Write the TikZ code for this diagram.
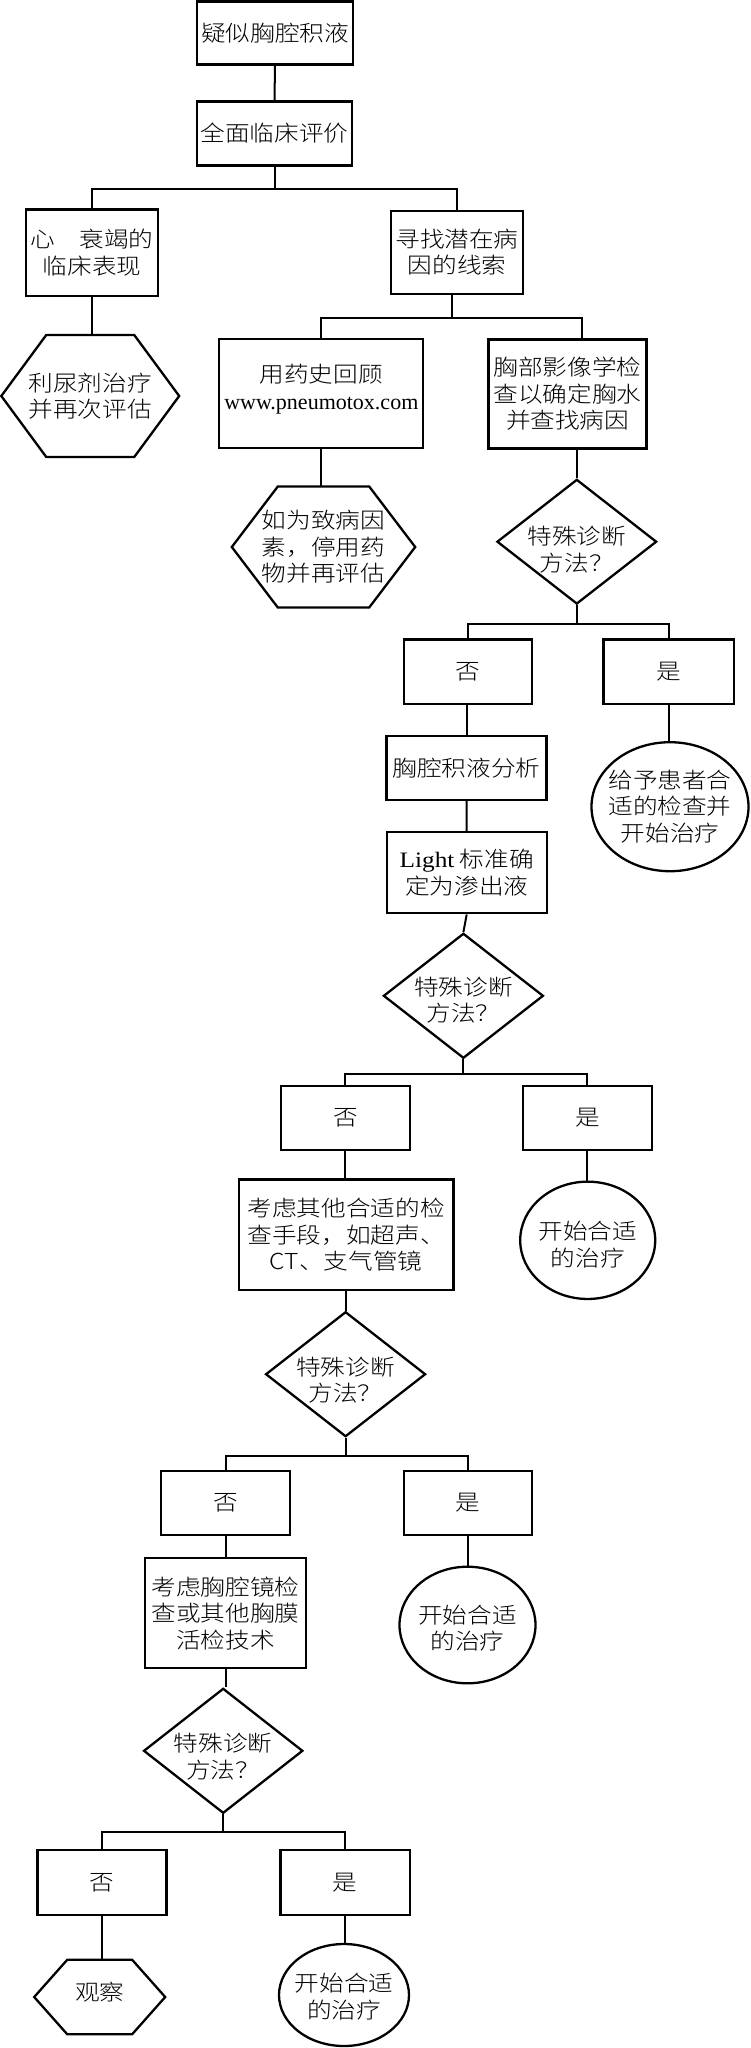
\documentclass[tikz,border=0pt]{standalone}
\usepackage{fontspec}
\setmainfont{Noto Sans CJK SC Light}[FakeStretch=1.12]
\newfontfamily\lat{Liberation Serif}
\newfontfamily\latw{Liberation Serif}[FakeStretch=1.15]
\usetikzlibrary{shapes.geometric}
\newcommand\fs{\fontsize{22pt}{26.5pt}\selectfont}
\newcommand\hexof[2]{\draw[shp] (#1.west) -- ([xshift=#2]#1.north west) -- ([xshift=-#2]#1.north east) -- (#1.east) -- ([xshift=-#2]#1.south east) -- ([xshift=#2]#1.south west) -- cycle;}
\tikzset{
  shp/.style={line width=2.3pt, line join=miter},
  box/.style={draw, shp, rectangle, inner sep=0pt, align=center, font=\fs},
  dia/.style={draw, shp, diamond, inner sep=0pt},
  ell/.style={draw, shp, ellipse, inner sep=0pt},
  hexa/.style={rectangle, inner sep=0pt, align=center, font=\fs},
  txt/.style={align=center, inner sep=0pt, font=\fs},
  con/.style={line width=2pt},
}
\begin{document}
\begin{tikzpicture}[x=1pt,y=-1pt]
\useasboundingbox (0,0) rectangle (750,2048);
% ---- nodes ----
\node[box, minimum width=155.7pt, minimum height=63pt] (n1) at (275,33) {疑似胸腔积液};
\node[box, minimum width=154.5pt, minimum height=64pt] (n2) at (274.5,133.5) {全面临床评价};
\node[box, minimum width=131.5pt, minimum height=86.7pt] (n3) at (92,252.7) {心　衰竭的\\临床表现};
\node[box, minimum width=132pt, minimum height=83.3pt] (n4) at (457,252.3) {寻找潜在病\\因的线索};
\node[hexa, minimum width=177.5pt, minimum height=121.7pt] (h1) at (90.25,396) {利尿剂治疗\\并再次评估};
\hexof{h1}{45pt}
\node[box, minimum width=204pt, minimum height=109pt] (n5) at (321.3,393.8) {};
\node[txt] (t5) at (321.3,389) {用药史回顾\\{\lat www.pneumotox.com}};
\node[box, minimum width=158pt, minimum height=109pt] (n6) at (567.6,394) {胸部影像学检\\查以确定胸水\\并查找病因};
\node[hexa, minimum width=183pt, minimum height=120.6pt] (h2) at (323.5,547) {如为致病因\\素，停用药\\物并再评估};
\hexof{h2}{46pt}
\node[dia, minimum width=159.7pt, minimum height=124.7pt] (d1) at (576.8,541.7) {};
\node[txt] (td1) at (576.8,549.5) {特殊诊断\\方法？};
\node[box, minimum width=128pt, minimum height=64.7pt] (n7) at (468,671.7) {否};
\node[box, minimum width=130.4pt, minimum height=64.7pt] (n8) at (668.8,671.7) {是};
\node[box, minimum width=160pt, minimum height=64.3pt] (n9) at (466.6,767.9) {胸腔积液分析};
\node[ell, minimum width=157pt, minimum height=129pt] (e1) at (670,806.7) {};
\node[txt] (te1) at (670,806.5) {给予患者合\\适的检查并\\开始治疗};
\node[box, minimum width=160pt, minimum height=81pt] (n10) at (466.7,872.8) {{\latw Light} 标准确\\定为渗出液};
\node[dia, minimum width=160pt, minimum height=125pt] (d2) at (463.4,995.8) {};
\node[txt] (td2) at (463.4,1000) {特殊诊断\\方法？};
\node[box, minimum width=129pt, minimum height=64pt] (n11) at (345.4,1118) {否};
\node[box, minimum width=129pt, minimum height=64pt] (n12) at (587.4,1118) {是};
\node[box, minimum width=214.4pt, minimum height=110.7pt] (n13) at (346.2,1234.7) {考虑其他合适的检\\查手段，如超声、\\CT、支气管镜};
\node[ell, minimum width=135pt, minimum height=117.3pt] (e2) at (587.7,1240.3) {};
\node[txt] (te2) at (587.7,1244.4) {开始合适\\的治疗};
\node[dia, minimum width=160pt, minimum height=125pt] (d3) at (345.6,1374.2) {};
\node[txt] (td3) at (345.6,1380) {特殊诊断\\方法？};
\node[box, minimum width=129pt, minimum height=64.3pt] (n14) at (225.5,1502.8) {否};
\node[box, minimum width=128pt, minimum height=64.3pt] (n15) at (468,1502.8) {是};
\node[box, minimum width=161pt, minimum height=110pt] (n16) at (225.5,1613.3) {考虑胸腔镜检\\查或其他胸膜\\活检技术};
\node[ell, minimum width=136pt, minimum height=116.6pt] (e3) at (467.5,1625) {};
\node[txt] (te3) at (467.5,1628.3) {开始合适\\的治疗};
\node[dia, minimum width=159.3pt, minimum height=125pt] (d4) at (223.2,1750.8) {};
\node[txt] (td4) at (223.2,1756.7) {特殊诊断\\方法？};
\node[box, minimum width=129pt, minimum height=65pt] (n17) at (101.9,1882.5) {否};
\node[box, minimum width=129.7pt, minimum height=65pt] (n18) at (345.2,1882.5) {是};
\node[hexa, minimum width=130.6pt, minimum height=74pt] (h3) at (99.7,1997) {};
\hexof{h3}{33pt}
\node[txt] (th3) at (99.7,1992) {观察};
\node[ell, minimum width=130pt, minimum height=102pt] (e4) at (344,1995) {};
\node[txt] (te4) at (344,1996.7) {开始合适\\的治疗};
% ---- connectors ----
\draw[con] (n1.south) -- (n2.north);
\coordinate (b1) at (274.5,189.3);
\draw[con] (n2.south) -- (b1);
\draw[con] (n3.north) |- (b1) -| (n4.north);
\draw[con] (n3.south) -- (n3.south |- h1.north);
\coordinate (b2) at (452,318.3);
\draw[con] (n4.south -| b2) -- (b2);
\draw[con] (n5.north) |- (b2) -| ([xshift=14pt]n6.north);
\draw[con] (n5.south) -- (n5.south |- h2.north);
\draw[con] (d1.north |- n6.south) -- (d1.north);
\coordinate (b3) at (576.8,624.3);
\draw[con] (d1.south) -- (b3);
\draw[con] (n7.north) |- (b3) -| (n8.north);
\draw[con] (n9.north |- n7.south) -- (n9.north);
\draw[con] (n8.south) -- (n8.south |- e1.north);
\draw[con] (n9.south) -- (n10.north);
\draw[con] (n10.south) -- (d2.north);
\coordinate (b4) at (463.4,1074);
\draw[con] (d2.south) -- (b4);
\draw[con] (n11.north) |- (b4) -| (n12.north);
\draw[con] (n11.south) -- (n11.south |- n13.north);
\draw[con] (n12.south) -- (n12.south |- e2.north);
\draw[con] (n13.south) -- (n13.south |- d3.north);
\coordinate (b5) at (345.6,1455.7);
\draw[con] (d3.south) -- (b5);
\draw[con] (n14.north) |- (b5) -| (n15.north);
\draw[con] (n14.south) -- (n14.south |- n16.north);
\draw[con] (n15.south) -- (n15.south |- e3.north);
\draw[con] (n16.south) -- (n16.south |- d4.north);
\coordinate (b6) at (223.2,1832.3);
\draw[con] (d4.south) -- (b6);
\draw[con] (n17.north) |- (b6) -| (n18.north);
\draw[con] (n17.south) -- (n17.south |- h3.north);
\draw[con] (n18.south) -- (n18.south |- e4.north);
\end{tikzpicture}
\end{document}
